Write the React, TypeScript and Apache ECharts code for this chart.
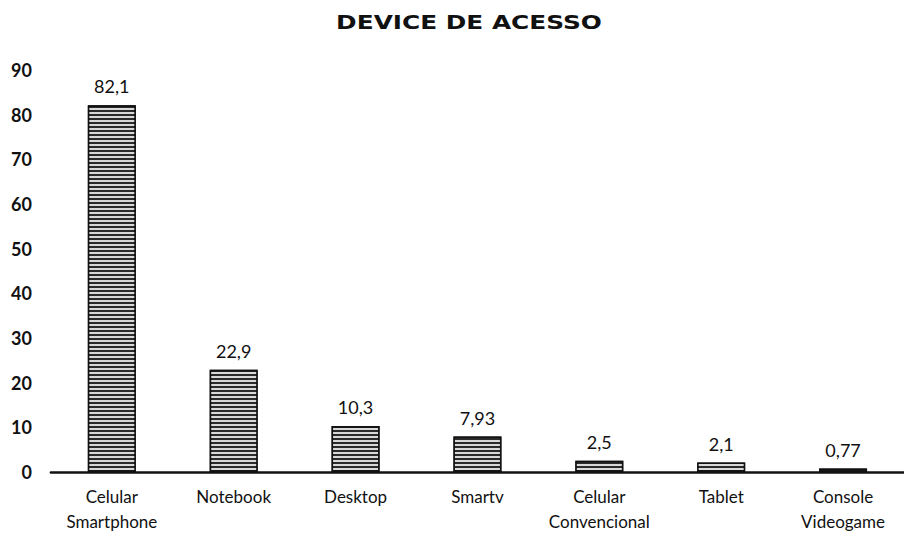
import React, { useEffect, useRef } from "react";
import * as echarts from "echarts";

const categories = [
  "Celular\nSmartphone",
  "Notebook",
  "Desktop",
  "Smartv",
  "Celular\nConvencional",
  "Tablet",
  "Console\nVideogame",
];
const values = [82.1, 22.9, 10.3, 7.93, 2.5, 2.1, 0.77];
const valueLabels = ["82,1", "22,9", "10,3", "7,93", "2,5", "2,1", "0,77"];
const title = "DEVICE DE ACESSO";

export default function App() {
  const ref = useRef<HTMLDivElement>(null);
  useEffect(() => {
    const chart = echarts.init(ref.current!, null, { renderer: "svg" });
    chart.setOption({
      animation: false,
      backgroundColor: "#ffffff",
      aria: { enabled: true, decal: { show: true } },
      graphic: [
        {
          type: "text",
          x: 461,
          y: 14,
          scaleX: 1.24,
          style: {
            text: title,
            align: "center",
            verticalAlign: "middle",
            fontFamily: "DejaVu Sans",
            fontWeight: "bold",
            fontSize: 20,
            fill: "#111",
          },
        },
      ],
      grid: { left: 41, top: 62, width: 870, height: 410 },
      xAxis: {
        type: "category",
        data: categories,
        axisLine: { show: true, lineStyle: { color: "#111", width: 2.5 } },
        axisTick: { show: false },
        axisLabel: {
          color: "#111",
          fontFamily: "Lato",
          fontSize: 17,
          lineHeight: 25,
          margin: 12,
          interval: 0,
        },
      },
      yAxis: {
        type: "value",
        min: 0,
        max: 90,
        interval: 10,
        axisLine: { show: false },
        axisTick: { show: false },
        splitLine: { show: false },
        axisLabel: {
          color: "#111",
          fontFamily: "Lato",
          fontWeight: "bold",
          fontSize: 18,
          margin: 19,
        },
      },
      series: [
        {
          type: "bar",
          data: values,
          barWidth: 48,
          itemStyle: {
            color: "#2a2a2a",
            borderColor: "#111",
            borderWidth: 1.5,
            decal: {
              symbol: "rect",
              symbolSize: 1,
              color: "rgba(235,235,235,0.9)",
              dashArrayX: [1, 0],
              dashArrayY: [2, 2],
              rotation: 0,
            },
          },
          label: {
            show: true,
            position: "top",
            distance: 10,
            color: "#111",
            fontFamily: "Lato",
            fontSize: 18,
            formatter: (p: any) => valueLabels[p.dataIndex],
          },
        },
      ],
    });
    return () => chart.dispose();
  }, []);
  return <div ref={ref} style={{ width: 896, height: 526 }} />;
}
